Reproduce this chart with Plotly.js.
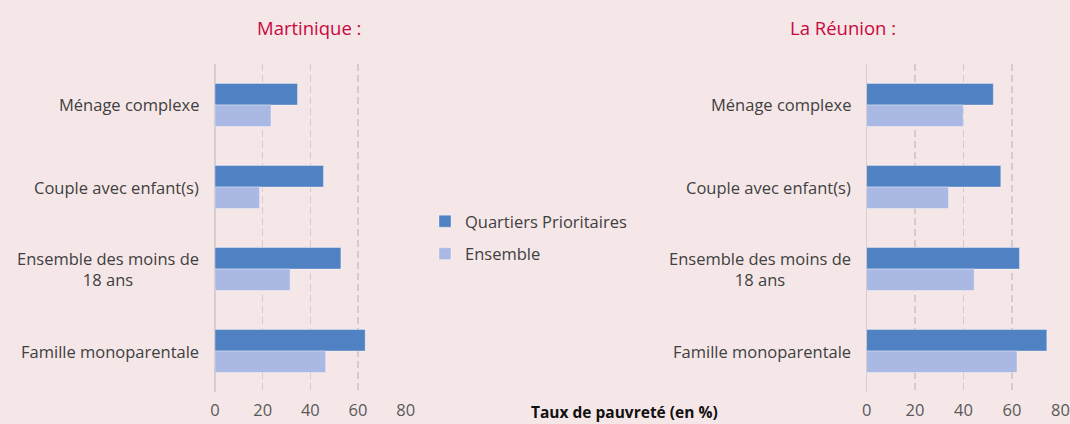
<!DOCTYPE html>
<html>
<head>
<meta charset="utf-8">
<script src="https://cdn.plot.ly/plotly-3.0.1.min.js"></script>
<style>html,body{margin:0;padding:0;background:#f5e7e8;}#chart{width:1070px;height:424px;}</style>
</head>
<body>
<div id="chart"></div>
<script>
const categories = ["Ménage complexe", "Couple avec enfant(s)", "Ensemble des moins de<br>18 ans", "Famille monoparentale"];
const seriesNames = ["Quartiers Prioritaires", "Ensemble"];
const martiniqueQP = [34.6, 45.5, 52.8, 63.0];
const martiniqueEns = [23.5, 18.7, 31.5, 46.4];
const reunionQP = [52.3, 55.4, 63.1, 74.4];
const reunionEns = [39.9, 33.8, 44.4, 62.1];
const panelTitles = ["Martinique :", "La Réunion :"];
const xTitle = "Taux de pauvreté (en %)";
const tickValues = [0, 20, 40, 60, 80];

const W = 1070, H = 424;
const FONT = "Open Sans, sans-serif";
const colQP = "#4f81c3", colEns = "#aab8e4";
const px = v => v / W, py = v => 1 - v / H;

const traces = [
  {type:'bar', orientation:'h', name:seriesNames[0], y:categories, x:martiniqueQP, xaxis:'x', yaxis:'y',
   marker:{color:colQP, line:{color:'rgba(255,255,255,0.45)', width:0.8}}, legendgroup:'a', hoverinfo:'x'},
  {type:'bar', orientation:'h', name:seriesNames[1], y:categories, x:martiniqueEns, xaxis:'x', yaxis:'y',
   marker:{color:colEns, line:{color:'rgba(255,255,255,0.45)', width:0.8}}, legendgroup:'b', hoverinfo:'x'},
  {type:'bar', orientation:'h', name:seriesNames[0], y:categories, x:reunionQP, xaxis:'x2', yaxis:'y2',
   marker:{color:colQP, line:{color:'rgba(255,255,255,0.45)', width:0.8}}, legendgroup:'a', showlegend:false, hoverinfo:'x'},
  {type:'bar', orientation:'h', name:seriesNames[1], y:categories, x:reunionEns, xaxis:'x2', yaxis:'y2',
   marker:{color:colEns, line:{color:'rgba(255,255,255,0.45)', width:0.8}}, legendgroup:'b', showlegend:false, hoverinfo:'x'}
];

const xax = dom => ({
  domain: dom, range:[0,80], tickvals: tickValues, fixedrange:true,
  showgrid:true, gridcolor:'#d6cbcc', griddash:'7px,4px', gridwidth:1.2,
  zeroline:true, zerolinecolor:'#d6cdce', zerolinewidth:1.5,
  showline:false, ticks:'', tickfont:{family:FONT, size:16.5, color:'#595959'},
  ticklabelstandoff: 6
});
const yax = {
  domain:[py(392), py(64)], autorange:'reversed', showticklabels:false, ticks:'',
  showgrid:false, zeroline:false, showline:false, fixedrange:true
};

const annotations = [
  {text:panelTitles[0], x:px(309), y:py(28), xref:'paper', yref:'paper', showarrow:false,
   font:{family:FONT, size:18.5, color:'#c8083e'}, xanchor:'center', yanchor:'middle'},
  {text:panelTitles[1], x:px(843), y:py(28), xref:'paper', yref:'paper', showarrow:false,
   font:{family:FONT, size:18.5, color:'#c8083e'}, xanchor:'center', yanchor:'middle'},
  {text:'<b>'+xTitle+'</b>', x:px(624), y:0, xref:'paper', yref:'paper', showarrow:false,
   font:{family:FONT, size:15.5, color:'#111111'}, xanchor:'center', yanchor:'bottom', yshift:-1}
];
categories.forEach(c => {
  annotations.push({text:c, x:px(201), y:c, xref:'paper', yref:'y', showarrow:false, align:'center',
    xanchor:'right', yanchor:'middle', font:{family:FONT, size:16.5, color:'#404040'}});
  annotations.push({text:c, x:px(853), y:c, xref:'paper', yref:'y2', showarrow:false, align:'center',
    xanchor:'right', yanchor:'middle', font:{family:FONT, size:16.5, color:'#404040'}});
});

const layout = {
  width:W, height:H, margin:{l:0, r:0, t:0, b:0},
  paper_bgcolor:'#f5e7e8', plot_bgcolor:'rgba(0,0,0,0)',
  font:{family:FONT, color:'#404040'},
  barmode:'group', bargap:0.475, bargroupgap:0,
  xaxis: xax([px(215), px(405.7)]),
  xaxis2: Object.assign(xax([px(866.6), px(1060.4)]), {anchor:'y2'}),
  yaxis: Object.assign({}, yax, {anchor:'x'}),
  yaxis2: Object.assign({}, yax, {anchor:'x2'}),
  showlegend:true,
  legend:{x:px(425), y:py(204), xanchor:'left', yanchor:'top', bgcolor:'rgba(0,0,0,0)',
    font:{family:FONT, size:16.5, color:'#404040'}, traceorder:'grouped', tracegroupgap:8,
    itemwidth:30},
  annotations: annotations
};

Plotly.newPlot('chart', traces, layout, {displayModeBar:false, staticPlot:true});
</script>
</body>
</html>
